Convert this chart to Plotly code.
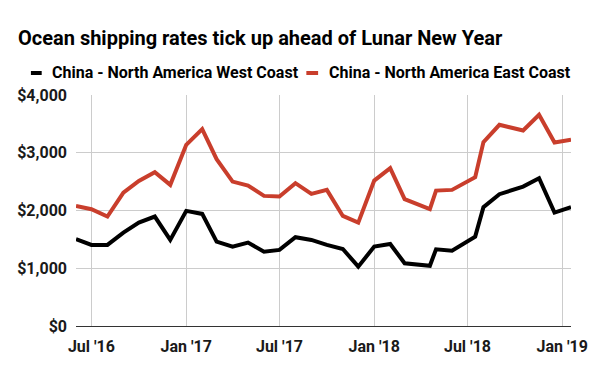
import plotly.graph_objects as go

dates = ["2016-06-01", "2016-07-01", "2016-08-01", "2016-09-01", "2016-10-01", "2016-11-01",
         "2016-12-01", "2017-01-01", "2017-02-01", "2017-03-01", "2017-04-01", "2017-05-01",
         "2017-06-01", "2017-07-01", "2017-08-01", "2017-09-01", "2017-10-01", "2017-11-01",
         "2017-12-01", "2018-01-01", "2018-02-01", "2018-03-01", "2018-04-19", "2018-05-01",
         "2018-06-01", "2018-07-16", "2018-08-01", "2018-09-01", "2018-10-17", "2018-11-17",
         "2018-12-17", "2019-01-18"]

west_coast = [1503, 1404, 1404, 1617, 1790, 1895, 1490, 1993, 1941, 1461, 1375, 1444,
              1288, 1317, 1537, 1490, 1404, 1334, 1028, 1375, 1421, 1086, 1042, 1329,
              1305, 1548, 2057, 2282, 2414, 2560, 1964, 2057]

east_coast = [2080, 2022, 1895, 2310, 2513, 2663, 2444, 3137, 3409, 2889, 2501, 2432,
              2253, 2241, 2473, 2288, 2357, 1906, 1790, 2518, 2733, 2196, 2022, 2345,
              2357, 2577, 3184, 3484, 3385, 3657, 3177, 3224]

tick_dates = ["2016-07-01", "2017-01-01", "2017-07-01", "2018-01-01", "2018-07-01", "2019-01-01"]
tick_labels = ["Jul '16", "Jan '17", "Jul '17", "Jan '18", "Jul '18", "Jan '19"]

series_names = ["China - North America West Coast", "China - North America East Coast"]
colors = ["#000000", "#c93e2c"]

FONT = "Roboto"

fig = go.Figure()
fig.add_trace(go.Scatter(x=dates, y=west_coast, mode="lines", name=series_names[0],
                         line=dict(color=colors[0], width=4), showlegend=False))
fig.add_trace(go.Scatter(x=dates, y=east_coast, mode="lines", name=series_names[1],
                         line=dict(color=colors[1], width=4), showlegend=False))

L, R, T, B = 76, 19, 95, 45
W, H = 600, 371
pw = W - L - R
ph = H - T - B

def px_x(p):
    return (p - L) / pw

def px_y(p):
    return (H - B - p) / ph

# custom legend
legend_items = [(30, 41, 49.8), (311, 323, 332)]
for (s0, s1, tx), name, col in zip(legend_items, series_names, colors):
    fig.add_shape(type="line", xref="paper", yref="paper",
                  x0=px_x(s0), x1=px_x(s1), y0=px_y(73), y1=px_y(73),
                  line=dict(color=col, width=4))
    fig.add_annotation(xref="paper", yref="paper", x=px_x(tx), y=px_y(73),
                       text="<b>" + name + "</b>", showarrow=False,
                       xanchor="left", yanchor="middle",
                       font=dict(family=FONT, size=16, color="#000000"))

fig.update_layout(
    width=W, height=H,
    margin=dict(l=L, r=R, t=T, b=B),
    paper_bgcolor="white", plot_bgcolor="white",
    title=dict(text="<b>Ocean shipping rates tick up ahead of Lunar New Year</b>",
               x=18 / W, xanchor="left", xref="container",
               y=1 - 38 / H, yanchor="middle", yref="container",
               font=dict(family=FONT, size=20, color="#000000")),
    xaxis=dict(type="date", range=["2016-06-01", "2019-01-18"],
               tickvals=tick_dates, ticktext=["<b>" + t + "</b>" for t in tick_labels],
               showgrid=True, gridcolor="#cccccc", gridwidth=1,
               showline=True, linecolor="#333333", linewidth=1,
               ticks="", ticklabelstandoff=6,
               tickfont=dict(family=FONT, size=16, color="#1a1a1a"),
               zeroline=False, fixedrange=True),
    yaxis=dict(range=[0, 4000], dtick=1000, tickprefix="$", tickformat=",",
               showgrid=True, gridcolor="#cccccc", gridwidth=1,
               zeroline=False, showline=False, ticks="", ticklabelstandoff=8,
               tickfont=dict(family=FONT, size=16, color="#1a1a1a", weight="bold"),
               fixedrange=True),
)

fig.write_html("out.html", config={"displayModeBar": False},
               post_script="document.body.style.margin='0px';")
